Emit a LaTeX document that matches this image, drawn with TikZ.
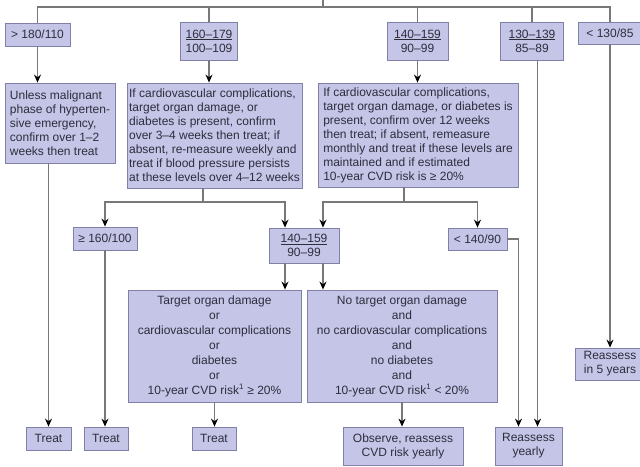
\documentclass[tikz,border=0pt]{standalone}
\usepackage{fontspec}
\setmainfont{Liberation Sans}
\usetikzlibrary{arrows.meta}

\definecolor{boxfill}{RGB}{197,197,232}
\definecolor{boxedge}{RGB}{128,128,168}
\definecolor{ink}{RGB}{45,45,60}
\definecolor{wire}{RGB}{120,120,120}

\tikzset{
	box/.style={draw=boxedge,fill=boxfill,line width=0.8pt,text=ink,inner sep=2pt,
		font=\fontsize{12}{14}\selectfont,align=center},
	para/.style={box,align=left},
	tall/.style={box,font=\fontsize{12}{15}\selectfont},
	wire/.style={color=wire,line width=1.2pt},
	elbow/.style={to path={-| (\tikztotarget)}}
}

\begin{document}
\begin{tikzpicture}[x=1pt,y=-1pt,>={Stealth[length=8pt,width=7pt,black]}]
	\useasboundingbox (0,0) rectangle (640,466);

	% first split by blood pressure
	\node[box,minimum width=65pt,minimum height=23pt]	(gt)		at (37.5,34.5)	{> 180/110};
	\node[box,minimum width=57pt,minimum height=38pt]	(r160)	at (209,41)		{\underline{160--179}\\100--109};
	\node[box,minimum width=61pt,minimum height=38pt]	(r140)	at (417.5,41)	{\underline{140--159}\\90--99};
	\node[box,minimum width=63pt,minimum height=38pt]	(r130)	at (532,41)		{\underline{130--139}\\85--89};
	\node[box,minimum width=64pt,minimum height=22pt]	(lt130)	at (610,33)		{< 130/85};

	% what to do for each range
	\node[para,minimum width=110pt,minimum height=80pt]	(unless)	at (60,123)		{Unless malignant\\phase of hyperten-\\sive emergency,\\confirm over 1--2\\weeks then treat};
	\node[para,minimum width=175pt,minimum height=105pt]	(ifA)		at (214.5,135.5)	{If cardiovascular complications,\\target organ damage, or\\diabetes is present, confirm\\over 3--4 weeks then treat; if\\absent, re-measure weekly and\\treat if blood pressure persists\\at these levels over 4--12 weeks};
	\node[para,minimum width=200pt,minimum height=104pt]	(ifB)		at (418,135)		{If cardiovascular complications,\\target organ damage, or diabetes is\\present, confirm over 12 weeks\\then treat; if absent, remeasure\\monthly and treat if these levels are\\maintained and if estimated\\10-year CVD risk is ≥ 20\%};

	% second split
	\node[box,minimum width=64pt,minimum height=23pt]	(ge160)	at (105,238.5)	{≥ 160/100};
	\node[box,minimum width=70pt,minimum height=35pt]	(mid140)	at (304,245.5)	{\underline{140--159}\\90--99};
	\node[box,minimum width=59pt,minimum height=22pt]	(lt140)	at (477.5,239)	{< 140/90};

	\node[tall,minimum width=173pt,minimum height=112pt]	(target)	at (214.5,346)	{Target organ damage\\or\\cardiovascular complications\\or\\diabetes\\or\\10-year CVD risk\textsuperscript{1} ≥ 20\%};
	\node[tall,minimum width=190pt,minimum height=112pt]	(notarget)	at (402,346)	{No target organ damage\\and\\no cardiovascular complications\\and\\no diabetes\\and\\10-year CVD risk\textsuperscript{1} < 20\%};
	\node[box,minimum width=70pt,minimum height=32pt]	(re5)		at (610,364)	{Reassess\\in 5 years};

	% outcomes
	\node[box,minimum width=45pt,minimum height=23pt]	(treat1)	at (48.5,438.5)	{Treat};
	\node[box,minimum width=44pt,minimum height=23pt]	(treat2)	at (106,438.5)	{Treat};
	\node[box,minimum width=44pt,minimum height=23pt]	(treat3)	at (214,438.5)	{Treat};
	\node[box,minimum width=120pt,minimum height=38pt]	(observe)	at (403,446)	{Observe, reassess\\CVD risk yearly};
	\node[box,minimum width=67pt,minimum height=38pt]	(reyear)	at (528.5,446)	{Reassess\\yearly};

	\coordinate (top)		at (323,0);
	\coordinate (hub)		at (323,7);
	\coordinate (splitA)	at (203,202);
	\coordinate (splitB)	at (404,202);
	\coordinate (midL)	at ([xshift=-19pt]mid140.north);
	\coordinate (midR)	at ([xshift=19pt]mid140.north);
	\coordinate (ryL)		at ([xshift=-10pt]reyear.north);
	\coordinate (ryR)		at ([xshift=9pt]reyear.north);

	\path[wire]
	(top)	edge	[]		(hub)
	(hub)	edge	[elbow]	(gt.north)
			edge	[elbow]	(r160.north)
			edge	[elbow]	(r140.north)
			edge	[elbow]	(r130.north)
			edge	[elbow]	(lt130.north)
	(ifA.south -| splitA)	edge	[]	(splitA)
	(ifB.south -| splitB)	edge	[]	(splitB)
	;

	\path[wire,->]
	(gt)		edge	[]		(gt |- unless.north)
	(r160)	edge	[]		(r160 |- ifA.north)
	(r140)	edge	[]		(r140 |- ifB.north)
	(r130.south -| ryR)	edge	[]	(ryR)
	(lt130)	edge	[]		(lt130 |- re5.north)
	(unless.south -| treat1)	edge	[]	(treat1)
	(splitA)	edge	[elbow]	(ge160)
			edge	[elbow]	(midL)
	(splitB)	edge	[elbow]	(midR)
			edge	[elbow]	(lt140)
	(mid140.south -| midL)	edge	[]	(target.north -| midL)
	(mid140.south -| midR)	edge	[]	(notarget.north -| midR)
	(ge160)	edge	[]		(ge160 |- treat2.north)
	(target)	edge	[]		(target |- treat3.north)
	(notarget)	edge	[]		(notarget |- observe.north)
	(lt140)	edge	[elbow]	(ryL)
	;
\end{tikzpicture}
\end{document}
